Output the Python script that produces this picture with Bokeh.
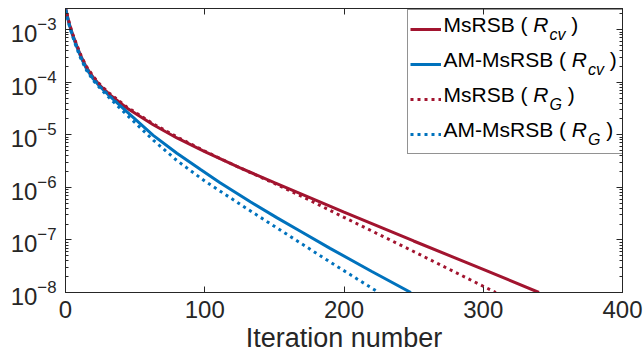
from bokeh.plotting import figure
from bokeh.models import (Range1d, LinearAxis, LogAxis, LogTicker, FixedTicker, Legend, LegendItem, Label)
from bokeh.embed import file_html
from bokeh.resources import INLINE

# ---------------- data ----------------
x_ms_cv = [0, 1, 2, 3, 5, 8, 11, 15, 20, 25, 32, 44, 63, 80, 100, 125, 150, 175, 200, 250, 300, 340]
y_ms_cv = [2.63e-3, 2.0e-3, 1.55e-3, 1.23e-3, 8.32e-4, 5.01e-4, 3.16e-4, 1.91e-4, 1.23e-4, 8.51e-5,
           5.75e-5, 3.24e-5, 1.55e-5, 8.71e-6, 4.79e-6, 2.37e-6, 1.23e-6, 6.46e-7, 3.39e-7,
           9.55e-8, 2.75e-8, 1.0e-8]

x_am_cv = [0, 1, 2, 3, 5, 8, 11, 15, 20, 25, 32, 44, 63, 80, 97, 111, 133, 152, 169, 190, 220, 248]
y_am_cv = [2.51e-3, 1.91e-3, 1.48e-3, 1.17e-3, 7.94e-4, 4.79e-4, 3.02e-4, 1.82e-4, 1.15e-4, 8.13e-5,
           5.37e-5, 2.75e-5, 9.77e-6, 4.47e-6, 2.19e-6, 1.23e-6, 5.25e-7, 2.63e-7, 1.45e-7,
           6.92e-8, 2.51e-8, 1.0e-8]

x_ms_g = [0, 1, 2, 3, 5, 8, 11, 15, 20, 25, 32, 44, 63, 80, 100, 125, 150, 175, 200, 250, 309]
y_ms_g = [2.75e-3, 2.04e-3, 1.58e-3, 1.26e-3, 8.51e-4, 5.25e-4, 3.31e-4, 2.0e-4, 1.29e-4, 8.91e-5,
          6.03e-5, 3.39e-5, 1.62e-5, 9.12e-6, 4.90e-6, 2.37e-6, 1.19e-6, 5.75e-7, 2.69e-7,
          6.03e-8, 1.0e-8]

x_am_g = [0, 1, 2, 3, 5, 8, 11, 15, 20, 25, 32, 44, 63, 80, 100, 130, 160, 190, 225]
y_am_g = [2.40e-3, 1.82e-3, 1.41e-3, 1.12e-3, 7.59e-4, 4.47e-4, 2.82e-4, 1.70e-4, 1.07e-4, 7.59e-5,
          4.90e-5, 2.40e-5, 7.94e-6, 3.24e-6, 1.32e-6, 3.98e-7, 1.23e-7, 3.80e-8, 1.0e-8]

x_ticks = [0, 100, 200, 300, 400]
legend_names = ["MsRSB", "AM-MsRSB", "MsRSB", "AM-MsRSB"]
legend_subs = ["cv", "cv", "G", "G"]

RED = "#A2142F"
BLUE = "#0072BD"
AX = "#262626"
FONT = "Liberation Sans"

p = figure(width=643, height=356, y_axis_type="log", output_backend="svg",
           toolbar_location=None, x_range=Range1d(0, 400), y_range=Range1d(1e-8, 2.53e-3),
           min_border_left=65, min_border_right=21, min_border_top=8, min_border_bottom=64)
p.background_fill_color = "white"
p.border_fill_color = "white"
p.outline_line_color = AX
p.outline_line_width = 1
p.xgrid.visible = False
p.ygrid.visible = False

r1 = p.line(x_ms_cv, y_ms_cv, line_color=RED, line_width=3)
r2 = p.line(x_am_cv, y_am_cv, line_color=BLUE, line_width=3)
r3 = p.line(x_ms_g, y_ms_g, line_color=RED, line_width=3, line_dash="3 4")
r4 = p.line(x_am_g, y_am_g, line_color=BLUE, line_width=3, line_dash="3 4")

def style_axis(ax, show_labels=True, size="22px"):
    ax.axis_line_color = AX
    ax.major_tick_line_color = AX
    ax.minor_tick_line_color = AX
    ax.major_tick_in = 6
    ax.major_tick_out = 0
    ax.minor_tick_in = 3
    ax.minor_tick_out = 0
    ax.major_label_text_color = AX if show_labels else None
    ax.major_label_text_font = FONT
    ax.major_label_text_font_size = size if show_labels else "1px"
    if not show_labels:
        ax.major_label_standoff = 0

xb = p.xaxis[0]
xb.ticker = FixedTicker(ticks=x_ticks)
style_axis(xb, True, "24px")
xb.minor_tick_line_color = None
xb.major_label_standoff = 8
xb.axis_label = "Iteration number"
xb.axis_label_text_font = FONT
xb.axis_label_text_font_size = "27px"
xb.axis_label_text_font_style = "normal"
xb.axis_label_text_color = AX
xb.axis_label_standoff = 2

yl = p.yaxis[0]
yl.ticker = LogTicker(desired_num_ticks=6, num_minor_ticks=10)
style_axis(yl, True, "24px")
yl.major_label_standoff = 9

xtop = LinearAxis(ticker=FixedTicker(ticks=x_ticks))
style_axis(xtop, False)
xtop.minor_tick_line_color = None
p.add_layout(xtop, "above")

yr = LogAxis(ticker=LogTicker(desired_num_ticks=6, num_minor_ticks=10))
style_axis(yr, False)
p.add_layout(yr, "right")

legend = Legend(items=[LegendItem(label=" ", renderers=[r]) for r in (r1, r2, r3, r4)],
                location=(342, 138), orientation="vertical",
                border_line_color=AX, border_line_width=1, background_fill_color="white",
                background_fill_alpha=0.0, padding=2, spacing=1, margin=0,
                glyph_width=31, glyph_height=34, label_standoff=0,
                label_width=179, label_height=34, label_text_font_size="1px")
p.add_layout(legend)

# rich-text legend labels (italic R with subscript)
W = {"M": .833, "s": .5, "R": .722, "S": .667, "B": .667, "A": .667, "-": .333,
     " ": .278, "(": .333, ")": .333, "c": .5, "v": .5, "G": .778}
def tw(t, size):
    return sum(W.get(ch, .556) for ch in t) * size

FS, SS = 21, 16
frame_bottom_canvas = 292
rows = [24, 59, 94, 128.5]
x0 = 378
def lab(x, y, text, size, style="normal"):
    p.add_layout(Label(x=x, y=y, x_units="screen", y_units="screen", text=text,
                       text_font=FONT, text_font_size=f"{size}px", text_font_style=style,
                       text_color="black", text_baseline="alphabetic", level="overlay"))

for name, sub, row in zip(legend_names, legend_subs, rows):
    yb = frame_bottom_canvas - row
    pre = name + " ("
    lab(x0, yb, pre, FS)
    xr = x0 + tw(pre + " ", FS)
    lab(xr, yb, "R", FS, "italic")
    xs = xr + tw("R", FS) + 1
    lab(xs, yb - 10, sub, SS, "italic")
    xc = xs + tw(sub, SS) + tw(" ", FS)
    lab(xc, yb, ")", FS)

open("out.html", "w").write(file_html(p, INLINE))
